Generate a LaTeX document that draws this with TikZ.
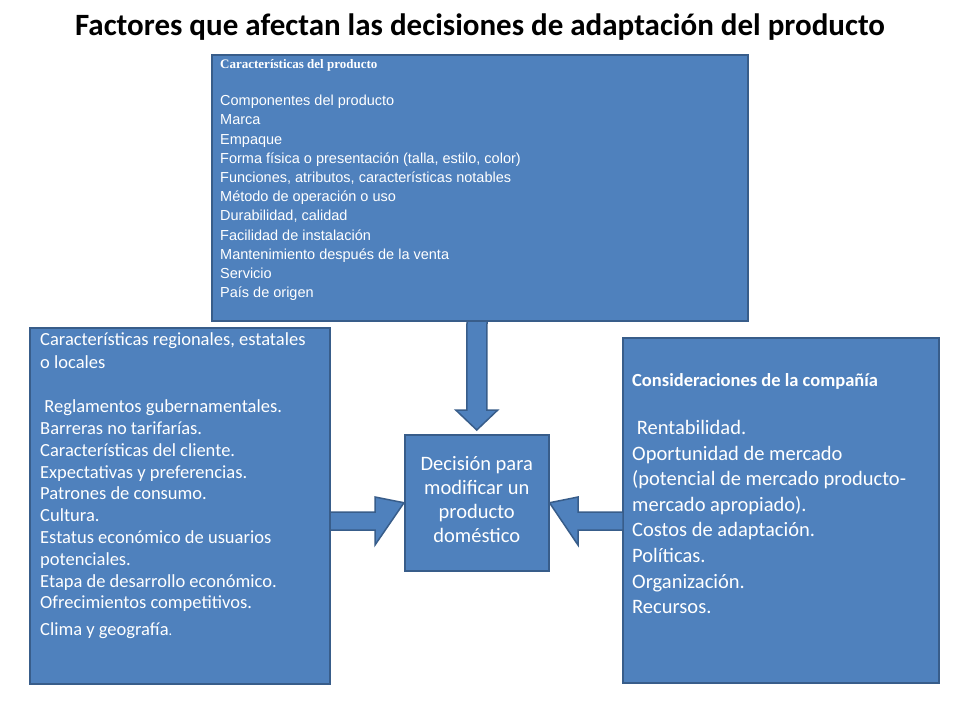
\documentclass[tikz,border=0pt]{standalone}
\usepackage{fontspec}
\setmainfont{Carlito}
\newfontfamily\arialf{Liberation Sans}
\newfontfamily\timesf{Liberation Serif}
\usetikzlibrary{calc}
\definecolor{boxfill}{HTML}{4F81BD}
\definecolor{boxline}{HTML}{385D8A}
\tikzset{
  bluebox/.style={draw=boxline,fill=boxfill,line width=1.5pt,inner sep=0pt},
  boxtext/.style={anchor=north west,align=left,text=white,inner sep=0pt},
  blockarrow/.style={draw=boxline,fill=boxfill,line width=1.5pt,line join=miter}
}
\begin{document}
\begin{tikzpicture}[x=1pt,y=-1pt]
\useasboundingbox (0,0) rectangle (960,720);
\fill[white] (0,0) rectangle (960,720);
\node[font=\fontsize{31}{36}\selectfont\bfseries] (title) at (480,27) {Factores que afectan las decisiones de adaptación del producto};
% boxes
\path[bluebox] (212,55) rectangle (748,321);
\coordinate (topS) at (477,321);
\path[bluebox] (30,328) rectangle (330,684);
\coordinate (leftE) at (330,521);
\path[bluebox] (623,338) rectangle (939,683);
\coordinate (rightW) at (623,521);
\node[bluebox,minimum width=144pt,minimum height=136pt,anchor=north west] (center) at (404,434) {};
% texts
\node[boxtext,font=\timesf\bfseries\fontsize{13}{16}\selectfont] (tophead) at (220,59) {Características del producto};
\node[boxtext,font=\arialf\fontsize{14.5}{19.2}\selectfont] (toptext) at (220,95) {Componentes del producto\\
Marca\\
Empaque\\
Forma física o presentación (talla, estilo, color)\\
Funciones, atributos, características notables\\
Método de operación o uso\\
Durabilidad, calidad\\
Facilidad de instalación\\
Mantenimiento después de la venta\\
Servicio\\
País de origen};
\node[boxtext,font=\fontsize{18.5}{21.8}\selectfont] (lefttext) at (40,332) {Características regionales, estatales\\[2pt]
o locales\\[22pt]
\ Reglamentos gubernamentales.\\
Barreras no tarifarías.\\
Características del cliente.\\
Expectativas y preferencias.\\
Patrones de consumo.\\
Cultura.\\
Estatus económico de usuarios\\
potenciales.\\
Etapa de desarrollo económico.\\
Ofrecimientos competitivos.\\[5pt]
Clima y geografía{\Large.}};
\node[boxtext,font=\bfseries\fontsize{18.5}{22}\selectfont] (righthead) at (632,373) {Consideraciones de la compañía};
\node[boxtext,font=\fontsize{20.5}{25.6}\selectfont] (righttext) at (632,420) {\ Rentabilidad.\\
Oportunidad de mercado\\
(potencial de mercado producto-\\
mercado apropiado).\\
Costos de adaptación.\\
Políticas.\\
Organización.\\
Recursos.};
\node[align=center,text=white,font=\fontsize{20.5}{24}\selectfont] at ($(center)+(0,-3)$) {Decisión para\\modificar un\\producto\\doméstico};
% arrows
\path[blockarrow] ($(topS)+(-10,0)$) -- ($(topS)+(10,0)$) -- ($(center.north)+(10,-24)$) -- ($(center.north)+(21,-24)$) -- ($(center.north)+(0,-4)$) -- ($(center.north)+(-21,-24)$) -- ($(center.north)+(-10,-24)$) -- cycle;
\path[blockarrow] ($(leftE)+(0,-9)$) -- ($(leftE)+(45,-9)$) -- ($(leftE)+(45,-24)$) -- (center.west) -- ($(leftE)+(45,24)$) -- ($(leftE)+(45,9)$) -- ($(leftE)+(0,9)$) -- cycle;
\path[blockarrow] ($(rightW)+(0,-9)$) -- ($(rightW)+(-45,-9)$) -- ($(rightW)+(-45,-24)$) -- (center.east) -- ($(rightW)+(-45,24)$) -- ($(rightW)+(-45,9)$) -- ($(rightW)+(0,9)$) -- cycle;
\end{tikzpicture}
\end{document}
